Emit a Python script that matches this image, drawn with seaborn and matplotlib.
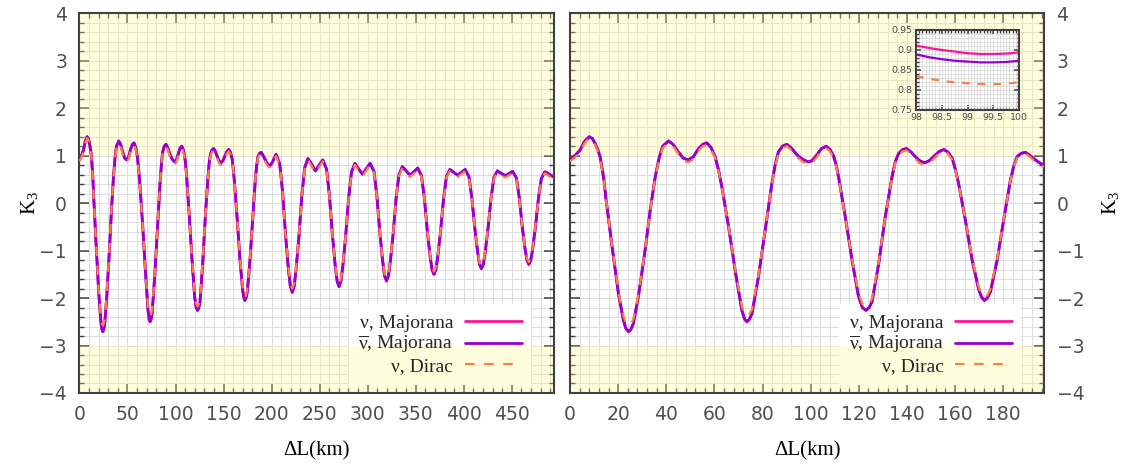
import numpy as np
import matplotlib
matplotlib.use("Agg")
import matplotlib.pyplot as plt
from matplotlib.patches import Rectangle
from matplotlib.ticker import MultipleLocator, FuncFormatter
import seaborn as sns

# --- values (K3 vs baseline difference) ---
# 0 .. 197 km, used by both panels
dl_near = [0, 2, 4.2, 6, 8, 9.3, 10.4, 11.5, 12.5, 13.9, 15.0, 17.3, 20.1, 22.2, 23.2,
           24.3, 25.3, 26.3, 28.4, 31.2, 33.3, 35.4, 37.0, 38.5, 40.9, 42.8, 45.0, 47.0,
           49.2, 51.3, 53.4, 55.2, 56.9, 58.6, 60.3, 61.7, 63.1, 65.9, 68.6, 71.4, 72.5,
           73.5, 74.5, 75.6, 78.3, 81.1, 83.9, 85.3, 86.6, 88.3, 90.1, 92.0, 94.3, 96.5,
           98.0, 99.3, 100.7, 102.6, 104.5, 106.5, 108.0, 109.5, 110.6, 111.6, 114.4,
           117.2, 119.9, 121.5, 123.0, 124.3, 125.5, 128.3, 131.0, 133.8, 135.2, 136.6,
           138.2, 139.8, 141.7, 143.5, 145.4, 147.3, 149.2, 151.1, 153.2, 155.3, 157.0,
           158.8, 160.1, 161.5, 164.3, 167.1, 169.9, 171.0, 172.2, 173.4, 174.7, 177.5,
           180.2, 183.0, 184.4, 185.8, 187.5, 189.3, 191.0, 192.7, 194.8, 196.9]
k3_maj_near = [0.92, 1.00, 1.12, 1.30, 1.40, 1.36, 1.26, 1.13, 0.98, 0.56, 0.06, -0.85,
               -1.90, -2.47, -2.64, -2.71, -2.66, -2.54, -1.97, -0.99, -0.15, 0.55, 0.95,
               1.20, 1.31, 1.24, 1.08, 0.95, 0.91, 0.98, 1.15, 1.24, 1.27, 1.17, 0.98, 0.70,
               0.34, -0.50, -1.41, -2.26, -2.44, -2.50, -2.45, -2.33, -1.55, -0.57, 0.42,
               0.82, 1.08, 1.20, 1.24, 1.16, 1.02, 0.93, 0.89, 0.87, 0.90, 1.02, 1.15, 1.20,
               1.13, 1.00, 0.80, 0.55, -0.29, -1.20, -1.97, -2.20, -2.26, -2.20, -2.08,
               -1.27, -0.29, 0.55, 0.88, 1.05, 1.13, 1.15, 1.08, 0.98, 0.89, 0.85, 0.89,
               0.98, 1.08, 1.13, 1.08, 0.95, 0.72, 0.41, -0.36, -1.20, -1.83, -1.98, -2.05,
               -2.00, -1.87, -1.20, -0.36, 0.48, 0.78, 0.98, 1.05, 1.07, 1.01, 0.94, 0.86,
               0.80]
k3_dirac_near = [0.88, 0.96, 1.08, 1.26, 1.37, 1.33, 1.23, 1.10, 0.95, 0.54, 0.06, -0.84,
                 -1.86, -2.38, -2.52, -2.58, -2.54, -2.45, -1.93, -0.98, -0.15, 0.53, 0.92,
                 1.16, 1.27, 1.20, 1.04, 0.90, 0.86, 0.93, 1.11, 1.20, 1.23, 1.13, 0.95,
                 0.68, 0.33, -0.49, -1.38, -2.17, -2.33, -2.38, -2.34, -2.24, -1.52, -0.56,
                 0.41, 0.79, 1.04, 1.16, 1.20, 1.12, 0.97, 0.88, 0.835, 0.818, 0.85, 0.97,
                 1.11, 1.16, 1.09, 0.96, 0.77, 0.53, -0.29, -1.17, -1.90, -2.12, -2.18,
                 -2.12, -2.01, -1.24, -0.29, 0.53, 0.85, 1.01, 1.09, 1.11, 1.04, 0.93, 0.84,
                 0.80, 0.84, 0.93, 1.04, 1.09, 1.04, 0.92, 0.70, 0.40, -0.35, -1.17, -1.77,
                 -1.92, -1.98, -1.94, -1.81, -1.17, -0.35, 0.47, 0.76, 0.95, 1.02, 1.04,
                 0.98, 0.90, 0.82, 0.76]

# 199 .. 494 km, left panel only
dl_far = [199.0, 201.5, 204.6, 208.5, 211.5, 214.5, 217.5, 219.5, 221.5, 223.5, 225.5,
          228.5, 231.5, 234.5, 237.8, 241.7, 245.5, 249.4, 253.3, 257.2, 260.2, 263.2,
          266.2, 268.2, 270.2, 272.2, 274.2, 277.2, 280.2, 283.2, 286.7, 290.6, 294.6,
          298.5, 302.5, 306.6, 309.6, 312.6, 315.6, 317.6, 319.6, 321.6, 323.6, 326.6,
          329.6, 332.6, 336.1, 340.0, 344.0, 348.0, 352.1, 356.0, 359.0, 362.0, 365.0,
          367.0, 369.0, 371.0, 373.0, 376.0, 379.0, 382.0, 385.6, 389.6, 393.6, 397.5,
          401.5, 405.4, 408.4, 411.4, 414.4, 416.4, 418.4, 420.4, 422.4, 425.4, 428.4,
          431.4, 435.0, 439.0, 443.0, 447.0, 450.9, 454.8, 457.8, 460.8, 463.8, 465.8,
          467.8, 469.8, 471.8, 474.8, 477.8, 480.8, 484.4, 487.5, 490.5, 494.0]
k3_maj_far = [0.80, 0.89, 1.03, 0.83, 0.22, -0.66, -1.39, -1.75, -1.88, -1.75, -1.40,
              -0.69, 0.16, 0.75, 0.94, 0.82, 0.68, 0.80, 0.91, 0.72, 0.16, -0.64, -1.31,
              -1.64, -1.76, -1.64, -1.32, -0.67, 0.11, 0.66, 0.84, 0.72, 0.61, 0.72, 0.84,
              0.67, 0.15, -0.60, -1.22, -1.53, -1.64, -1.53, -1.23, -0.63, 0.10, 0.60, 0.77,
              0.68, 0.59, 0.66, 0.74, 0.58, 0.11, -0.56, -1.12, -1.40, -1.50, -1.40, -1.12,
              -0.57, 0.09, 0.56, 0.71, 0.65, 0.59, 0.65, 0.71, 0.56, 0.12, -0.50, -1.02,
              -1.29, -1.38, -1.29, -1.03, -0.51, 0.10, 0.54, 0.68, 0.63, 0.58, 0.62, 0.67,
              0.53, 0.12, -0.47, -0.96, -1.20, -1.29, -1.20, -0.96, -0.47, 0.11, 0.52, 0.66,
              0.63, 0.59, 0.55]
k3_dirac_far = [0.76, 0.85, 0.99, 0.80, 0.21, -0.65, -1.35, -1.69, -1.80, -1.69, -1.36,
                -0.68, 0.15, 0.72, 0.91, 0.78, 0.64, 0.76, 0.88, 0.69, 0.15, -0.63, -1.28,
                -1.59, -1.69, -1.59, -1.29, -0.66, 0.10, 0.63, 0.81, 0.68, 0.57, 0.68, 0.81,
                0.64, 0.14, -0.59, -1.19, -1.48, -1.58, -1.48, -1.20, -0.62, 0.09, 0.57,
                0.74, 0.64, 0.55, 0.62, 0.71, 0.55, 0.10, -0.55, -1.09, -1.35, -1.44, -1.35,
                -1.09, -0.56, 0.08, 0.53, 0.68, 0.61, 0.55, 0.61, 0.68, 0.53, 0.11, -0.49,
                -0.99, -1.25, -1.33, -1.25, -1.00, -0.50, 0.09, 0.51, 0.65, 0.59, 0.54, 0.58,
                0.64, 0.50, 0.11, -0.46, -0.94, -1.16, -1.24, -1.16, -0.94, -0.46, 0.10,
                0.49, 0.63, 0.59, 0.55, 0.51]

# zoom 98 .. 100 km
dl_inset = [98.0, 98.25, 98.5, 98.75, 99.0, 99.25, 99.5, 99.75, 100.0]
k3_nu_maj_inset = [0.911, 0.905, 0.900, 0.896, 0.892, 0.890, 0.890, 0.891, 0.894]
k3_nubar_maj_inset = [0.889, 0.882, 0.877, 0.873, 0.871, 0.869, 0.869, 0.870, 0.873]
k3_dirac_inset = [0.835, 0.828, 0.823, 0.819, 0.817, 0.815, 0.814, 0.816, 0.819]

labels = ["ν, Majorana", r"$\overline{\mathrm{\nu}}$, Majorana", "ν, Dirac"]

PINK = "#ff1493"
PURPLE = "#9400d3"
ORANGE = "#ff7f3f"
YELLOW = "#fffa8c"
SPINE = "#404040"
TICK_GRAY = "#505050"
GRID = "#dedede"
SERIF = ["Liberation Serif", "DejaVu Serif"]

sns.set_theme(style="white")
plt.rcParams["font.family"] = ["DejaVu Sans"]
plt.rcParams["mathtext.fontset"] = "custom"
plt.rcParams["mathtext.rm"] = "Liberation Serif"
plt.rcParams["mathtext.it"] = "Liberation Serif:italic"
plt.rcParams["mathtext.bf"] = "Liberation Serif:bold"
plt.rcParams["axes.unicode_minus"] = True


def style_frame(ax, lsize, pad, maj_len, min_len):
    ax.set_axisbelow(True)
    ax.grid(which="both", color=GRID, linewidth=0.75)
    ax.tick_params(which="both", direction="in", top=True, bottom=True, left=True,
                   right=True, color=SPINE, labelcolor=TICK_GRAY, labelsize=lsize, pad=pad)
    ax.tick_params(which="major", length=maj_len, width=1.1)
    ax.tick_params(which="minor", length=min_len, width=1.0)
    for s in ax.spines.values():
        s.set_color(SPINE)
        s.set_linewidth(1.5)


def draw_curves(ax, dl, k3_maj, k3_dirac, lw=2.0):
    # nu and nubar Majorana coincide at this scale
    sns.lineplot(x=dl, y=k3_maj, ax=ax, color=PINK, lw=lw, label=labels[0],
                 sort=False, estimator=None, zorder=3)
    sns.lineplot(x=dl, y=k3_maj, ax=ax, color=PURPLE, lw=lw, label=labels[1],
                 sort=False, estimator=None, zorder=3.1)
    sns.lineplot(x=dl, y=k3_dirac, ax=ax, color=ORANGE, lw=lw * 0.8,
                 linestyle=(0, (4.3, 4.3)), label=labels[2],
                 sort=False, estimator=None, zorder=3.2)


def setup_panel(ax, xmax, xmajor, xminor, right_labels):
    ax.set_xlim(0, xmax)
    ax.set_ylim(-4, 4)
    ax.xaxis.set_major_locator(MultipleLocator(xmajor))
    ax.xaxis.set_minor_locator(MultipleLocator(xminor))
    ax.yaxis.set_major_locator(MultipleLocator(1))
    ax.yaxis.set_minor_locator(MultipleLocator(0.2))
    style_frame(ax, 13.5, 9, 7, 3.5)
    ax.axhspan(1, 4, color=YELLOW, alpha=0.3, lw=0, zorder=2)
    ax.axhspan(-4, -3, color=YELLOW, alpha=0.3, lw=0, zorder=2)
    ax.set_xlabel("ΔL(km)", fontfamily=SERIF, fontsize=15, color="black")
    ax.set_ylabel(r"K$_3$", fontfamily=SERIF, fontsize=15, color="black")
    ax.xaxis.set_label_coords(0.5, -0.128)
    if right_labels:
        ax.tick_params(axis="y", labelleft=False, labelright=True)
        ax.yaxis.set_label_position("right")
        ax.yaxis.set_label_coords(1.118, 0.5)
    else:
        ax.yaxis.set_label_coords(-0.083, 0.5)
    leg = ax.legend(loc="lower right", bbox_to_anchor=(0.952, 0.022), borderaxespad=0,
                    frameon=False, markerfirst=False, handlelength=2.9,
                    handletextpad=0.6, labelspacing=0.1, borderpad=0.5,
                    prop={"family": SERIF, "size": 14})
    leg.set_zorder(5)
    return leg


fig = plt.figure(figsize=(11.27, 4.67), dpi=100)
ax1 = fig.add_axes([0.0705, 0.1585, 0.4211, 0.813])
ax2 = fig.add_axes([0.5058, 0.1585, 0.4206, 0.813])

draw_curves(ax1, np.concatenate([dl_near, dl_far]),
            np.concatenate([k3_maj_near, k3_maj_far]),
            np.concatenate([k3_dirac_near, k3_dirac_far]))
draw_curves(ax2, np.array(dl_near), np.array(k3_maj_near), np.array(k3_dirac_near))

leg1 = setup_panel(ax1, 494, 50, 10, False)
leg2 = setup_panel(ax2, 197, 20, 4, True)

# inset
axi = fig.add_axes([0.8128, 0.7645, 0.0914, 0.1713])
axi.set_facecolor("white")
sns.lineplot(x=dl_inset, y=k3_nu_maj_inset, ax=axi, color=PINK, lw=1.6,
             sort=False, estimator=None)
sns.lineplot(x=dl_inset, y=k3_nubar_maj_inset, ax=axi, color=PURPLE, lw=1.6,
             sort=False, estimator=None)
sns.lineplot(x=dl_inset, y=k3_dirac_inset, ax=axi, color=ORANGE, lw=1.6,
             linestyle=(0, (3.5, 3.5)), sort=False, estimator=None)
axi.set_xlim(98, 100)
axi.set_ylim(0.75, 0.95)
axi.xaxis.set_major_locator(MultipleLocator(0.5))
axi.xaxis.set_minor_locator(MultipleLocator(0.0625))
axi.yaxis.set_major_locator(MultipleLocator(0.05))
axi.yaxis.set_minor_locator(MultipleLocator(0.01))
axi.xaxis.set_major_formatter(FuncFormatter(lambda v, p: f"{v:g}"))
axi.yaxis.set_major_formatter(FuncFormatter(lambda v, p: f"{v:g}"))
style_frame(axi, 6.8, 2.5, 3.5, 1.8)
axi.set_xlabel("")
axi.set_ylabel("")
if axi.get_legend() is not None:
    axi.get_legend().remove()

# white box behind the legend: hides the grid but stays under the yellow bands
fig.canvas.draw()
for ax, leg in ((ax1, leg1), (ax2, leg2)):
    bb = leg.get_window_extent().transformed(ax.transAxes.inverted())
    ax.add_patch(Rectangle((bb.x0, bb.y0), bb.width, bb.height, transform=ax.transAxes,
                           facecolor="white", edgecolor="none", zorder=1))

fig.savefig("out.png", dpi=100)
